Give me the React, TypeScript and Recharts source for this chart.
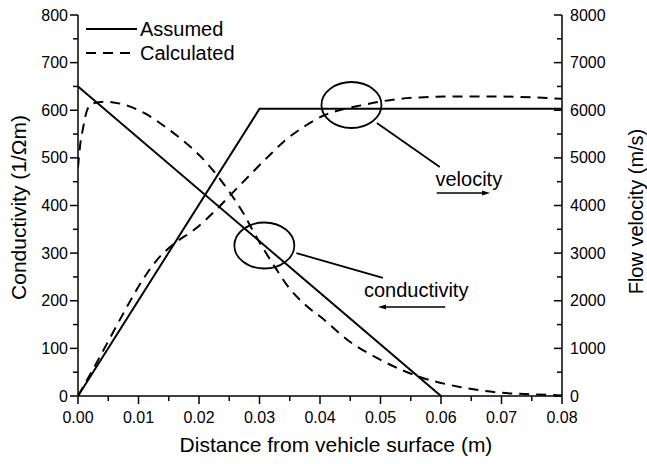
import { LineChart, Line, XAxis, YAxis, Legend, ReferenceLine, ReferenceDot } from "recharts"

// distance (m) / conductivity (1/Ohm m)
const assumedConductivity = [
  { x: 0, y: 650 },
  { x: 0.06, y: 0 },
]
// distance (m) / flow velocity (m/s)
const assumedVelocity = [
  { x: 0, y: 0 },
  { x: 0.03, y: 6030 },
  { x: 0.08, y: 6030 },
]
const calculatedConductivity = [
  { x: 0, y: 480 },
  { x: 0.0003, y: 521 },
  { x: 0.0008, y: 560 },
  { x: 0.0015, y: 600 },
  { x: 0.0023, y: 614 },
  { x: 0.0045, y: 618 },
  { x: 0.0078, y: 611 },
  { x: 0.011, y: 594 },
  { x: 0.014, y: 569 },
  { x: 0.0172, y: 538 },
  { x: 0.0205, y: 500 },
  { x: 0.0235, y: 455 },
  { x: 0.0255, y: 420 },
  { x: 0.0275, y: 380 },
  { x: 0.029, y: 345 },
  { x: 0.0307, y: 308 },
  { x: 0.0326, y: 270 },
  { x: 0.0347, y: 230 },
  { x: 0.0377, y: 190 },
  { x: 0.0405, y: 162 },
  { x: 0.0445, y: 118 },
  { x: 0.05, y: 76 },
  { x: 0.0565, y: 40 },
  { x: 0.0631, y: 19 },
  { x: 0.0698, y: 7 },
  { x: 0.0785, y: 2 },
  { x: 0.08, y: 1 },
]
const calculatedVelocity = [
  { x: 0, y: 0 },
  { x: 0.002, y: 450 },
  { x: 0.005, y: 1150 },
  { x: 0.008, y: 1850 },
  { x: 0.0107, y: 2440 },
  { x: 0.013, y: 2850 },
  { x: 0.0157, y: 3180 },
  { x: 0.0193, y: 3500 },
  { x: 0.0226, y: 3880 },
  { x: 0.0255, y: 4260 },
  { x: 0.0284, y: 4640 },
  { x: 0.0317, y: 5060 },
  { x: 0.0339, y: 5330 },
  { x: 0.0378, y: 5690 },
  { x: 0.0408, y: 5900 },
  { x: 0.0438, y: 6020 },
  { x: 0.0471, y: 6110 },
  { x: 0.0499, y: 6180 },
  { x: 0.0532, y: 6240 },
  { x: 0.0565, y: 6270 },
  { x: 0.062, y: 6290 },
  { x: 0.0686, y: 6290 },
  { x: 0.0785, y: 6250 },
  { x: 0.08, y: 6240 },
]

const xMajor = [0, 0.01, 0.02, 0.03, 0.04, 0.05, 0.06, 0.07, 0.08]
const xMinor = [0.005, 0.015, 0.025, 0.035, 0.045, 0.055, 0.065, 0.075]
const leftMajor = [0, 100, 200, 300, 400, 500, 600, 700, 800]
const leftMinor = [50, 150, 250, 350, 450, 550, 650, 750]
const rightMajor = [0, 1000, 2000, 3000, 4000, 5000, 6000, 7000, 8000]
const rightMinor = [500, 1500, 2500, 3500, 4500, 5500, 6500, 7500]

const legendItems = [
  { label: "Assumed", dash: undefined },
  { label: "Calculated", dash: "10 7" },
]

// annotations, in x / conductivity units
const velocityCircle = { x: 0.0452, y: 611 }
const conductivityCircle = { x: 0.0308, y: 316 }
const velocityLeader = [{ x: 0.0494, y: 573 }, { x: 0.0598, y: 481 }]
const conductivityLeader = [{ x: 0.0361, y: 300 }, { x: 0.0504, y: 248 }]
const velocityLabel = { x: 0.0646, y: 456, text: "velocity" }
const conductivityLabel = { x: 0.0559, y: 223, text: "conductivity" }
const velocityArrow = [{ x: 0.0593, y: 426 }, { x: 0.0681, y: 426 }]
const conductivityArrow = [{ x: 0.0607, y: 187 }, { x: 0.0496, y: 187 }]

const FONT = "'Liberation Sans', Arial, Helvetica, sans-serif"
const DASH = "10 7"

const sortNum = (a: number[], b: number[]) => [...a, ...b].sort((p, q) => p - q)

const XTick = (props: any) => {
  const { x, y, payload } = props
  const major = xMajor.includes(payload.value)
  return (
    <g>
      <line x1={x} y1={y} x2={x} y2={y + (major ? 8 : 5)} stroke="#000" strokeWidth={1.5} />
      {major && (
        <text x={x} y={y + 27} textAnchor="middle" fontSize={16} fontFamily={FONT} fill="#000">
          {payload.value.toFixed(2)}
        </text>
      )}
    </g>
  )
}

const LeftTick = (props: any) => {
  const { x, y, payload } = props
  const major = leftMajor.includes(payload.value)
  return (
    <g>
      <line x1={x} y1={y} x2={x - (major ? 8 : 5)} y2={y} stroke="#000" strokeWidth={1.5} />
      {major && (
        <text x={x - 10} y={y} textAnchor="end" dominantBaseline="central" fontSize={16} fontFamily={FONT} fill="#000">
          {payload.value}
        </text>
      )}
    </g>
  )
}

// the right axis has its ticks pointing into the plot
const RightTick = (props: any) => {
  const { x, y, payload } = props
  const major = rightMajor.includes(payload.value)
  return (
    <g>
      <line x1={x} y1={y} x2={x - (major ? 8 : 5)} y2={y} stroke="#000" strokeWidth={1.5} />
      {major && (
        <text x={x + 8} y={y} textAnchor="start" dominantBaseline="central" fontSize={16} fontFamily={FONT} fill="#000">
          {payload.value}
        </text>
      )}
    </g>
  )
}

const LegendBox = () => (
  <svg width={180} height={52} style={{ display: "block" }}>
    {legendItems.map((it, i) => (
      <g key={it.label}>
        <line x1={6} y1={14 + i * 24} x2={57} y2={14 + i * 24} stroke="#000" strokeWidth={2} strokeDasharray={it.dash} />
        <text x={60} y={14 + i * 24} dominantBaseline="central" fontSize={20} fontFamily={FONT} fill="#000">
          {it.label}
        </text>
      </g>
    ))}
  </svg>
)

const Arrow = (props: any) => {
  const { x1, y1, x2, y2 } = props
  const a = Math.atan2(y2 - y1, x2 - x1)
  const L = 8
  const W = 2.5
  const bx = x2 - L * Math.cos(a)
  const by = y2 - L * Math.sin(a)
  const px = -Math.sin(a) * W
  const py = Math.cos(a) * W
  return (
    <g>
      <line x1={x1} y1={y1} x2={bx} y2={by} stroke="#000" strokeWidth={1.5} />
      <polygon points={`${x2},${y2} ${bx + px},${by + py} ${bx - px},${by - py}`} fill="#000" />
    </g>
  )
}

const Leader = (props: any) => {
  const { x1, y1, x2, y2 } = props
  return <line x1={x1} y1={y1} x2={x2} y2={y2} stroke="#000" strokeWidth={1.8} />
}

const Ellipse = (props: any) => (
  <ellipse cx={props.cx} cy={props.cy} rx={30} ry={23} fill="none" stroke="#000" strokeWidth={1.8} />
)

const makeLabel = (text: string) => (props: any) => (
  <text x={props.cx} y={props.cy} textAnchor="middle" dominantBaseline="central" fontSize={20} fontFamily={FONT} fill="#000">
    {text}
  </text>
)

const XTitle = (props: any) => {
  const { x, y, width } = props.viewBox
  return (
    <text x={x + width / 2 + 16} y={y + 56} textAnchor="middle" fontSize={21} fontFamily={FONT} fill="#000">
      Distance from vehicle surface (m)
    </text>
  )
}

const LeftTitle = (props: any) => {
  const { y, height } = props.viewBox
  const cx = 18
  const cy = y + height / 2 + 2
  return (
    <text x={cx} y={cy} transform={`rotate(-90 ${cx} ${cy})`} textAnchor="middle" dominantBaseline="central" fontSize={21} fontFamily={FONT} fill="#000">
      Conductivity (1/Ωm)
    </text>
  )
}

const RightTitle = (props: any) => {
  const { x, y, height } = props.viewBox
  const cx = x + 74
  const cy = y + height / 2 + 6
  return (
    <text x={cx} y={cy} transform={`rotate(-90 ${cx} ${cy})`} textAnchor="middle" dominantBaseline="central" fontSize={20} fontFamily={FONT} fill="#000">
      Flow velocity (m/s)
    </text>
  )
}

export default function App() {
  return (
    <div style={{ position: "absolute", left: 0, top: 0, background: "#fff" }}>
      <LineChart width={647} height={464} margin={{ top: 15, right: 0, bottom: 0, left: 0 }}>
        <XAxis
          type="number"
          dataKey="x"
          domain={[0, 0.08]}
          ticks={sortNum(xMajor, xMinor)}
          interval={0}
          tickSize={0}
          tickMargin={0}
          tickLine={false}
          tick={<XTick />}
          height={68}
          stroke="#000"
          strokeWidth={1.5}
          allowDataOverflow
          label={{ content: <XTitle /> }}
        />
        <YAxis
          yAxisId="left"
          type="number"
          domain={[0, 800]}
          ticks={sortNum(leftMajor, leftMinor)}
          interval={0}
          tickSize={0}
          tickMargin={0}
          tickLine={false}
          tick={<LeftTick />}
          width={78}
          stroke="#000"
          strokeWidth={1.5}
          allowDataOverflow
          label={{ content: <LeftTitle /> }}
        />
        <YAxis
          yAxisId="right"
          orientation="right"
          type="number"
          domain={[0, 8000]}
          ticks={sortNum(rightMajor, rightMinor)}
          interval={0}
          tickSize={0}
          tickMargin={0}
          tickLine={false}
          tick={<RightTick />}
          width={85}
          stroke="#000"
          strokeWidth={1.5}
          allowDataOverflow
          label={{ content: <RightTitle /> }}
        />
        <Legend
          layout="horizontal"
          align="center"
          verticalAlign="middle"
          content={<LegendBox />}
          wrapperStyle={{ left: 80, top: 15, width: 180, height: 52 }}
        />
        <Line
          yAxisId="left"
          data={assumedConductivity}
          dataKey="y"
          name="Assumed"
          type="linear"
          stroke="#000"
          strokeWidth={2}
          dot={false}
          isAnimationActive={false}
        />
        <Line
          yAxisId="right"
          data={assumedVelocity}
          dataKey="y"
          name="Assumed velocity"
          type="linear"
          stroke="#000"
          strokeWidth={2}
          dot={false}
          isAnimationActive={false}
          legendType="none"
        />
        <Line
          yAxisId="left"
          data={calculatedConductivity}
          dataKey="y"
          name="Calculated"
          type="monotone"
          stroke="#000"
          strokeWidth={2}
          strokeDasharray={DASH}
          dot={false}
          isAnimationActive={false}
        />
        <Line
          yAxisId="right"
          data={calculatedVelocity}
          dataKey="y"
          name="Calculated velocity"
          type="monotone"
          stroke="#000"
          strokeWidth={2}
          strokeDasharray={DASH}
          dot={false}
          isAnimationActive={false}
          legendType="none"
        />
        <ReferenceDot yAxisId="left" x={velocityCircle.x} y={velocityCircle.y} r={1} shape={Ellipse} ifOverflow="visible" />
        <ReferenceDot yAxisId="left" x={conductivityCircle.x} y={conductivityCircle.y} r={1} shape={Ellipse} ifOverflow="visible" />
        <ReferenceLine yAxisId="left" segment={velocityLeader} shape={Leader} ifOverflow="visible" />
        <ReferenceLine yAxisId="left" segment={conductivityLeader} shape={Leader} ifOverflow="visible" />
        <ReferenceLine yAxisId="left" segment={velocityArrow} shape={Arrow} ifOverflow="visible" />
        <ReferenceLine yAxisId="left" segment={conductivityArrow} shape={Arrow} ifOverflow="visible" />
        <ReferenceDot yAxisId="left" x={velocityLabel.x} y={velocityLabel.y} r={1} shape={makeLabel(velocityLabel.text)} ifOverflow="visible" />
        <ReferenceDot yAxisId="left" x={conductivityLabel.x} y={conductivityLabel.y} r={1} shape={makeLabel(conductivityLabel.text)} ifOverflow="visible" />
      </LineChart>
    </div>
  )
}
